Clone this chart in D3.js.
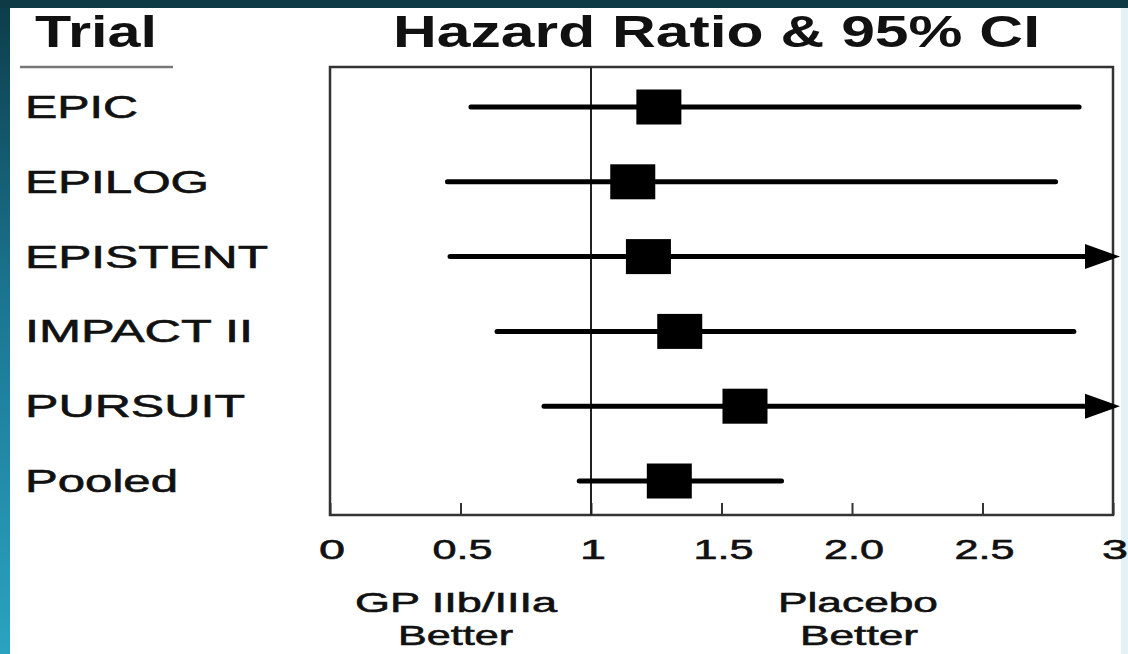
<!DOCTYPE html>
<html>
<head>
<meta charset="utf-8">
<script src="https://cdn.jsdelivr.net/npm/d3@7"></script>
<style>
  html, body { margin: 0; padding: 0; background: #ffffff; }
  svg { display: block; font-family: "Liberation Sans", Arial, sans-serif; }
  .plain { stroke: #111; stroke-width: 0.6px; }
</style>
</head>
<body>
<svg id="plot"></svg>
<script>
// data
const trials = ["EPIC", "EPILOG", "EPISTENT", "IMPACT II", "PURSUIT", "Pooled"];
const hazard = [1.26, 1.16, 1.22, 1.34, 1.59, 1.30];
const lowerCI = [0.54, 0.45, 0.46, 0.64, 0.82, 0.955];
const upperCI = [2.87, 2.78, 3.0, 2.85, 3.0, 1.73];
const offScale = [false, false, true, false, true, false];   // CI runs past 3 -> arrow
const tickValues = [0, 0.5, 1, 1.5, 2, 2.5, 3];
const tickLabels = ["0", "0.5", "1", "1.5", "2.0", "2.5", "3"];
const labelWidths = [113, 184, 243, 228, 220, 153];   // stretched text in the slide

const data = trials.map((t, i) => ({
    trial: t, hr: hazard[i], lo: lowerCI[i], hi: upperCI[i], arrow: offScale[i], w: labelWidths[i]
}));

let width = 1128;
let height = 654;
let frame = { left: 330, right: 1113, top: 67, bottom: 515 };

let svg = d3.select('#plot')
    .attr('width', width)
    .attr('height', height)
    .style('background', '#FFFFFF');

// slide border (dark top band, blue gradient on the left)
let defs = svg.append('defs');
let grad = defs.append('linearGradient')
    .attr('id', 'edge')
    .attr('x1', 0).attr('y1', 0).attr('x2', 0).attr('y2', 1);
grad.append('stop').attr('offset', '0%').attr('stop-color', '#0d3c49');
grad.append('stop').attr('offset', '45%').attr('stop-color', '#1b7590');
grad.append('stop').attr('offset', '100%').attr('stop-color', '#2aa3c0');

svg.append('rect').attr('x', 0).attr('y', 0).attr('width', 10).attr('height', height).attr('fill', 'url(#edge)');
svg.append('rect').attr('x', 0).attr('y', 0).attr('width', width).attr('height', 8).attr('fill', '#0e3a46');
svg.append('rect').attr('x', 1121).attr('y', 8).attr('width', 7).attr('height', height - 8).attr('fill', '#e3f1f5');

let xScale = d3.scaleLinear()
    .domain([0, 3])
    .range([frame.left, frame.right]);

let yScale = d3.scalePoint()
    .domain(trials)
    .range([107, 481]);

// plot frame
svg.append('rect')
    .attr('x', frame.left)
    .attr('y', frame.top)
    .attr('width', frame.right - frame.left)
    .attr('height', frame.bottom - frame.top)
    .attr('fill', 'none')
    .attr('stroke', '#333')
    .attr('stroke-width', 2.5);

// x axis: ticks pointing up into the frame
const xAxe = d3.axisTop(xScale)
    .tickValues(tickValues)
    .tickSize(12)
    .tickFormat('');

let xAxis = svg.append('g')
    .attr('transform', `translate(0, ${frame.bottom})`)
    .call(xAxe);
xAxis.select('.domain').remove();
xAxis.selectAll('.tick line').attr('stroke', '#333').attr('stroke-width', 2);

svg.append('g')
    .selectAll('text')
    .data(tickValues)
    .enter()
    .append('text')
    .attr('class', 'plain')
    .attr('x', d => xScale(d) + 2)
    .attr('y', 559)
    .attr('text-anchor', 'middle')
    .style('font-size', '28px')
    .attr('textLength', (d, i) => tickLabels[i].length === 1 ? 26 : 60)
    .attr('lengthAdjust', 'spacingAndGlyphs')
    .attr('fill', '#111')
    .text((d, i) => tickLabels[i]);

// line of no effect
svg.append('line')
    .attr('x1', xScale(1)).attr('x2', xScale(1))
    .attr('y1', frame.top).attr('y2', frame.bottom)
    .attr('stroke', '#222')
    .attr('stroke-width', 2);

// confidence intervals
let rows = svg.append('g')
    .selectAll('g')
    .data(data)
    .enter()
    .append('g')
    .attr('transform', d => `translate(0, ${yScale(d.trial)})`);

rows.append('line')
    .attr('x1', d => xScale(d.lo))
    .attr('x2', d => d.arrow ? xScale(d.hi) - 26 : xScale(d.hi))
    .attr('y1', 0).attr('y2', 0)
    .attr('stroke', '#000')
    .attr('stroke-width', 5)
    .attr('stroke-linecap', 'round');

rows.filter(d => d.arrow)
    .append('path')
    .attr('d', d => {
        let x = xScale(d.hi);
        return `M${x - 28},-12.5 L${x + 7},0 L${x - 28},12.5 Z`;
    })
    .attr('fill', '#000');

// point estimates
rows.append('rect')
    .attr('x', d => xScale(d.hr) - 22.5)
    .attr('y', -17.5)
    .attr('width', 45)
    .attr('height', 35)
    .attr('fill', '#000');

// trial names
rows.append('text')
    .attr('class', 'plain')
    .attr('x', 25)
    .attr('y', 11)
    .style('font-size', '32px')
    .attr('textLength', d => d.w)
    .attr('lengthAdjust', 'spacingAndGlyphs')
    .attr('fill', '#111')
    .text(d => d.trial);

// headers
svg.append('text')
    .attr('x', 35).attr('y', 47)
    .style('font-size', '44px').style('font-weight', 'bold')
    .attr('textLength', 122).attr('lengthAdjust', 'spacingAndGlyphs')
    .attr('fill', '#111')
    .text('Trial');

svg.append('line')
    .attr('x1', 20).attr('x2', 173)
    .attr('y1', 67).attr('y2', 67)
    .attr('stroke', '#777')
    .attr('stroke-width', 2.5);

svg.append('text')
    .attr('x', 393).attr('y', 47)
    .style('font-size', '44px').style('font-weight', 'bold')
    .attr('textLength', 647).attr('lengthAdjust', 'spacingAndGlyphs')
    .attr('fill', '#111')
    .text('Hazard Ratio & 95% CI');

// favours labels under the axis
const notes = [
    { text: 'GP IIb/IIIa', x: 355, y: 612, w: 202 },
    { text: 'Better', x: 398, y: 645, w: 115 },
    { text: 'Placebo', x: 778, y: 612, w: 160 },
    { text: 'Better', x: 800, y: 645, w: 118 }
];
svg.append('g')
    .selectAll('text')
    .data(notes)
    .enter()
    .append('text')
    .attr('class', 'plain')
    .attr('x', d => d.x)
    .attr('y', d => d.y)
    .style('font-size', '28px')
    .attr('textLength', d => d.w)
    .attr('lengthAdjust', 'spacingAndGlyphs')
    .attr('fill', '#111')
    .text(d => d.text);
</script>
</body>
</html>
